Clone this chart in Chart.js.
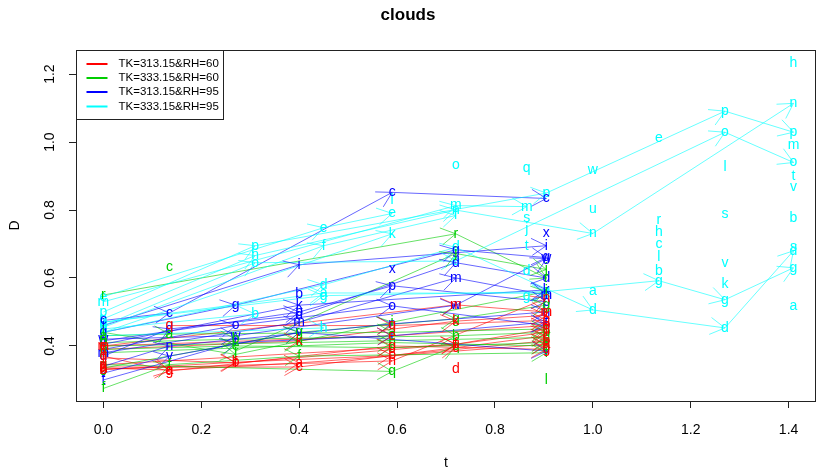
<!DOCTYPE html>
<html>
<head>
<meta charset="utf-8">
<script src="https://cdn.jsdelivr.net/npm/chart.js@4.4.0/dist/chart.umd.min.js"></script>
<style>
  html, body { margin: 0; padding: 0; background: #fff; }
  #wrap { width: 818px; height: 470px; }
</style>
</head>
<body>
<div id="wrap"><canvas id="clouds"></canvas></div>
<script>
// axis ticks
const xTicks = [0, 0.2, 0.4, 0.6, 0.8, 1.0, 1.2, 1.4];
const yTicks = [0.4, 0.6, 0.8, 1.0, 1.2];

const groupNames = ['TK=313.15&RH=60', 'TK=333.15&RH=60', 'TK=313.15&RH=95', 'TK=333.15&RH=95'];
const groupColors = ['255,0,0', '0,205,0', '0,0,255', '0,255,255'];

// each run: [letter, [[t, D], ...]]
const runs313_60 = [
  ['a', [[0, 0.335], [0.135, 0.329], [0.40, 0.350], [0.905, 0.405]]],
  ['b', [[0, 0.330], [0.27, 0.352], [0.59, 0.372], [0.905, 0.415]]],
  ['c', [[0, 0.338], [0.40, 0.338], [0.72, 0.395], [0.905, 0.430]]],
  ['d', [[0.72, 0.332]]],
  ['e', [[0, 0.400], [0.59, 0.430], [0.905, 0.460]]],
  ['f', [[0, 0.365], [0.27, 0.350], [0.72, 0.405], [0.905, 0.440]]],
  ['g', [[0, 0.370], [0.135, 0.326], [0.59, 0.400], [0.905, 0.390]]],
  ['k', [[0, 0.390], [0.40, 0.415], [0.72, 0.473], [0.905, 0.490]]],
  ['m', [[0, 0.400], [0.72, 0.521], [0.905, 0.500]]],
  ['n', [[0, 0.332], [0.59, 0.356], [0.905, 0.540]]],
  ['q', [[0.135, 0.460], [0.59, 0.460], [0.905, 0.475]]],
  ['u', [[0, 0.345], [0.72, 0.405], [0.905, 0.450]]]
];

const runs333_60 = [
  ['r', [[0, 0.550], [0.72, 0.730], [0.905, 0.600]]],
  ['c', [[0.135, 0.633]]],
  ['j', [[0.27, 0.385], [0.72, 0.672], [0.905, 0.625]]],
  ['a', [[0, 0.430], [0.135, 0.435], [0.59, 0.440], [0.905, 0.450]]],
  ['b', [[0, 0.410], [0.27, 0.420], [0.72, 0.430], [0.905, 0.440]]],
  ['d', [[0, 0.400], [0.40, 0.410], [0.905, 0.425]]],
  ['e', [[0, 0.390], [0.27, 0.400], [0.59, 0.395], [0.905, 0.410]]],
  ['f', [[0, 0.275], [0.135, 0.345], [0.40, 0.370], [0.905, 0.380]]],
  ['g', [[0, 0.335], [0.40, 0.440], [0.72, 0.480], [0.905, 0.520]]],
  ['h', [[0, 0.380], [0.59, 0.410], [0.905, 0.400]]],
  ['l', [[0.905, 0.300]]],
  ['q', [[0, 0.345], [0.59, 0.325], [0.72, 0.400]]],
  ['i', [[0, 0.440], [0.27, 0.375], [0.59, 0.470], [0.905, 0.560]]]
];

const runs313_95 = [
  ['c', [[0, 0.475], [0.135, 0.497], [0.59, 0.852], [0.905, 0.834]]],
  ['i', [[0, 0.460], [0.40, 0.639], [0.905, 0.695]]],
  ['b', [[0.40, 0.553]]],
  ['x', [[0.59, 0.627]]],
  ['x', [[0.905, 0.731]]],
  ['g', [[0, 0.440], [0.27, 0.520], [0.72, 0.683], [0.905, 0.660]]],
  ['d', [[0, 0.370], [0.135, 0.450], [0.40, 0.490], [0.72, 0.645], [0.905, 0.600]]],
  ['m', [[0, 0.380], [0.40, 0.470], [0.72, 0.600], [0.905, 0.550]]],
  ['o', [[0, 0.390], [0.27, 0.460], [0.59, 0.518], [0.905, 0.460]]],
  ['p', [[0, 0.415], [0.40, 0.500], [0.59, 0.577], [0.905, 0.530]]],
  ['n', [[0, 0.340], [0.135, 0.400], [0.59, 0.465], [0.905, 0.500]]],
  ['t', [[0, 0.300], [0.27, 0.410], [0.59, 0.430], [0.905, 0.470]]],
  ['v', [[0, 0.320], [0.135, 0.370], [0.40, 0.440], [0.905, 0.385]]],
  ['w', [[0, 0.420], [0.27, 0.430], [0.72, 0.520], [0.905, 0.657]]],
  ['k', [[0, 0.405], [0.40, 0.520], [0.905, 0.565]]]
];

const runs333_95 = [
  ['n', [[0, 0.480], [0.31, 0.666], [0.72, 0.800], [1.0, 0.731], [1.41, 1.114]]],
  ['p', [[0, 0.500], [0.31, 0.695], [0.905, 0.850], [1.27, 1.091], [1.41, 1.029]]],
  ['o', [[0, 0.460], [0.31, 0.645], [0.72, 0.650], [1.27, 1.029], [1.41, 0.940]]],
  ['d', [[0, 0.440], [0.45, 0.580], [0.72, 0.690], [1.0, 0.506], [1.27, 0.453], [1.41, 0.680]]],
  ['g', [[0, 0.470], [0.45, 0.548], [0.905, 0.560], [1.135, 0.592], [1.27, 0.536], [1.41, 0.630]]],
  ['f', [[0, 0.455], [0.45, 0.695], [0.72, 0.784]]],
  ['m', [[0, 0.530], [0.72, 0.813], [0.865, 0.810]]],
  ['b', [[0, 0.450], [0.31, 0.494]]],
  ['a', [[0, 0.470], [0.45, 0.556], [0.905, 0.555]]],
  ['h', [[0, 0.430], [0.45, 0.453]]],
  ['k', [[0, 0.440], [0.59, 0.730]]],
  ['e', [[0, 0.545], [0.45, 0.748], [0.59, 0.790]]],
  ['l', [[0.59, 0.828]]],
  ['o', [[0.72, 0.931]]],
  ['q', [[0.865, 0.922]]],
  ['s', [[0.865, 0.775]]],
  ['j', [[0.865, 0.745]]],
  ['t', [[0.865, 0.695]]],
  ['d', [[0.865, 0.621]]],
  ['g', [[0.865, 0.548]]],
  ['w', [[1.0, 0.917]]],
  ['u', [[1.0, 0.804]]],
  ['a', [[1.0, 0.562]]],
  ['e', [[1.135, 1.011]]],
  ['r', [[1.135, 0.769]]],
  ['h', [[1.135, 0.734]]],
  ['c', [[1.135, 0.701]]],
  ['l', [[1.135, 0.660]]],
  ['b', [[1.135, 0.621]]],
  ['l', [[1.27, 0.925]]],
  ['s', [[1.27, 0.789]]],
  ['v', [[1.27, 0.645]]],
  ['k', [[1.27, 0.583]]],
  ['h', [[1.41, 1.232]]],
  ['m', [[1.41, 0.990]]],
  ['t', [[1.41, 0.900]]],
  ['v', [[1.41, 0.866]]],
  ['b', [[1.41, 0.775]]],
  ['s', [[1.41, 0.690]]],
  ['a', [[1.41, 0.518]]]
];

const allGroups = [runs313_60, runs333_60, runs313_95, runs333_95];
const FONT = '"Liberation Sans", Arial, sans-serif';
const headLen = 17;

// build one scatter-with-line dataset per run
const datasets = [];
[3, 2, 1, 0].forEach(g => {
  allGroups[g].forEach(([letter, pts]) => {
    datasets.push({
      label: groupNames[g],
      letter: letter,
      letterColor: 'rgb(' + groupColors[g] + ')',
      data: pts.map(p => ({ x: p[0], y: p[1] })),
      showLine: true,
      borderColor: 'rgba(' + groupColors[g] + ',0.6)',
      borderWidth: 1,
      pointRadius: 0,
      pointHoverRadius: 0,
      tension: 0
    });
  });
});

// arrow heads, letters, box, y labels and the legend
const rDecor = {
  id: 'rDecor',
  afterDatasetsDraw(chart) {
    const ctx = chart.ctx;
    const a = chart.chartArea;
    ctx.save();
    ctx.beginPath();
    ctx.rect(a.left, a.top, a.right - a.left, a.bottom - a.top);
    ctx.clip();
    chart.data.datasets.forEach((ds, i) => {
      const pts = chart.getDatasetMeta(i).data;
      ctx.strokeStyle = ds.borderColor;
      ctx.lineWidth = 1;
      for (let k = 1; k < pts.length; k++) {
        const p0 = pts[k - 1], p1 = pts[k];
        const ang = Math.atan2(p1.y - p0.y, p1.x - p0.x);
        ctx.beginPath();
        [ang + Math.PI / 6, ang - Math.PI / 6].forEach(b => {
          ctx.moveTo(p1.x, p1.y);
          ctx.lineTo(p1.x - headLen * Math.cos(b), p1.y - headLen * Math.sin(b));
        });
        ctx.stroke();
      }
    });
    ctx.font = '14px ' + FONT;
    ctx.textAlign = 'center';
    ctx.textBaseline = 'middle';
    chart.data.datasets.forEach((ds, i) => {
      ctx.fillStyle = ds.letterColor;
      chart.getDatasetMeta(i).data.forEach(p => ctx.fillText(ds.letter, p.x, p.y));
    });
    ctx.restore();

    // plot box
    ctx.save();
    ctx.strokeStyle = '#222';
    ctx.lineWidth = 1;
    ctx.strokeRect(Math.round(a.left) + 0.5, Math.round(a.top) + 0.5,
      Math.round(a.right - a.left) - 1, Math.round(a.bottom - a.top));

    // y tick labels, vertical like R
    const ys = chart.scales.y;
    ctx.fillStyle = '#000';
    ctx.font = '14px ' + FONT;
    ctx.textAlign = 'center';
    ctx.textBaseline = 'middle';
    yTicks.forEach(v => {
      ctx.save();
      ctx.translate(a.left - 26, ys.getPixelForValue(v));
      ctx.rotate(-Math.PI / 2);
      ctx.fillText(v.toFixed(1), 0, 0);
      ctx.restore();
    });

    // legend
    const lx = Math.round(a.left) + 0.5, ly = Math.round(a.top) + 0.5;
    ctx.fillStyle = '#fff';
    ctx.fillRect(lx, ly, 147, 69);
    ctx.strokeStyle = '#222';
    ctx.strokeRect(lx, ly, 147, 69);
    ctx.font = '11.5px ' + FONT;
    ctx.textAlign = 'left';
    const rows = [13.5, 27.5, 41.5, 56];
    groupNames.forEach((name, i) => {
      ctx.strokeStyle = 'rgb(' + groupColors[i] + ')';
      ctx.lineWidth = 2;
      ctx.beginPath();
      ctx.moveTo(lx + 10, ly + rows[i]);
      ctx.lineTo(lx + 31, ly + rows[i]);
      ctx.stroke();
      ctx.fillStyle = '#000';
      ctx.fillText(name, lx + 42, ly + rows[i]);
    });
    ctx.restore();
  }
};

Chart.defaults.font.family = FONT;
Chart.defaults.color = '#000';

new Chart(document.getElementById('clouds'), {
  type: 'scatter',
  data: { datasets },
  options: {
    responsive: true,
    maintainAspectRatio: false,
    animation: false,
    events: [],
    layout: { padding: { left: 0, right: 2, top: 0, bottom: 0 } },
    plugins: {
      legend: { display: false },
      tooltip: { enabled: false },
      title: {
        display: true,
        text: 'clouds',
        color: '#000',
        font: { size: 17, weight: 'bold' },
        padding: { top: 5, bottom: 24.6 }
      }
    },
    scales: {
      x: {
        type: 'linear',
        min: -0.056,
        max: 1.456,
        afterBuildTicks: s => { s.ticks = xTicks.map(v => ({ value: v })); },
        afterFit: s => { s.height = 69; },
        ticks: {
          color: '#000',
          font: { size: 14 },
          padding: 14,
          maxRotation: 0,
          callback: v => v.toFixed(1)
        },
        grid: { drawOnChartArea: false, drawTicks: true, tickLength: 7, color: '#222' },
        border: { display: false },
        title: { display: true, text: 't', color: '#000', font: { size: 14 }, padding: { top: 0, bottom: -2 } }
      },
      y: {
        type: 'linear',
        min: 0.238,
        max: 1.271,
        afterBuildTicks: s => { s.ticks = yTicks.map(v => ({ value: v })); },
        afterFit: s => { s.width = 76; },
        ticks: { display: false },
        grid: { drawOnChartArea: false, drawTicks: true, tickLength: 7, color: '#222' },
        border: { display: false },
        title: { display: true, text: 'D', color: '#000', font: { size: 14 }, padding: { top: 6.5, bottom: 0 } }
      }
    }
  },
  plugins: [rDecor]
});
</script>
</body>
</html>
